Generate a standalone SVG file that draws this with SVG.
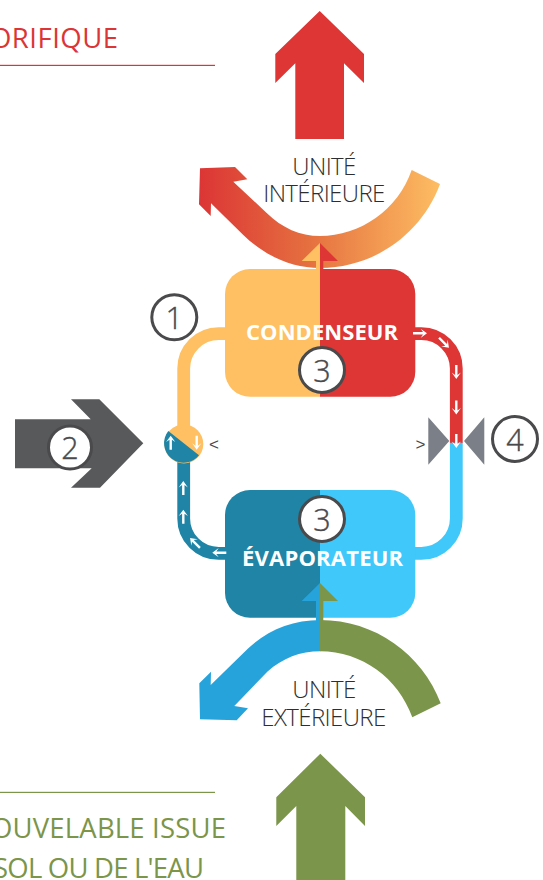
<svg xmlns="http://www.w3.org/2000/svg" width="543" height="880" viewBox="0 0 543 880">
<style>
.num{fill:#fff;stroke:#4a4a4c;stroke-width:3}
.numt{font-family:"Open Sans","Noto Sans",sans-serif;font-weight:300;font-size:30.500px;fill:#4a4a4c;text-anchor:middle;stroke:#4a4a4c;stroke-width:.4}
.lbl{font-family:"Open Sans","Noto Sans",sans-serif;font-weight:300;font-size:24px;fill:#2e2e30;text-anchor:middle;letter-spacing:-.6px}
.box{font-family:"Open Sans","Noto Sans",sans-serif;font-weight:700;font-size:22px;fill:#fff;text-anchor:middle}
.head{font-family:"Open Sans","Noto Sans",sans-serif;font-size:27.500px}
.pipe{fill:none;stroke-width:12.8}
.lt{font-family:"Liberation Sans",sans-serif;font-size:17px;fill:#4a4a4c;text-anchor:middle}
</style>
<defs>
<linearGradient id="g1" gradientUnits="userSpaceOnUse" x1="199" y1="0" x2="440" y2="0"><stop offset="0" stop-color="#dc3535"/><stop offset=".45" stop-color="#e56f3f"/><stop offset="1" stop-color="#fdbd62"/></linearGradient>
<path id="a" d="M-1.200-7H1.200V3L4.600.6 0 7-4.600.6-1.200 3Z" fill="#fff"/>
</defs>
<g id="title-top">
<text class="head" x="-10" y="48" fill="#dc3535" textLength="128">ORIFIQUE</text>
<rect x="0" y="64.800" width="215" height="1.200" fill="#dc3535"/>
</g>
<g id="title-bottom">
<rect x="0" y="791.800" width="215" height="1.200" fill="#7b954a"/>
<text class="head" x="-9" y="837.500" fill="#7b954a" textLength="235">OUVELABLE ISSUE</text>
<text class="head" x="-7" y="878" fill="#7b954a" textLength="211">SOL OU DE L'EAU</text>
</g>
<g id="connectors">
<path class="pipe" stroke="#fec062" d="M226 333.600H218.700A35 35 0 0 0 183.700 368.600V432"/>
<path class="pipe" stroke="#1f84a5" d="M226 553.400H218.700A35 35 0 0 1 183.700 518.400V456"/>
<path class="pipe" stroke="#de3535" d="M414 333.600H421.300A35 35 0 0 1 456.300 368.600V443"/>
<path class="pipe" stroke="#3fc8f9" d="M414 553.400H421.300A35 35 0 0 0 456.300 518.400V442.700"/>
</g>
<g id="heat-out-arrow"><path fill="#de3535" d="M319.700 11 364 54V83L344 63.300V139H295.300V63.300L275.300 83V54Z"/></g>
<g id="cold-in-arrow"><path fill="#7b954a" d="M320.300 753.700 365 797.300V826L345.300 806V880H296.300V806L276.300 826V797.300Z"/></g>
<g id="swoosh-top"><path fill="url(#g1)" d="M440 184 411.700 170C398 210 360 236 320 236 300 236 282 228 266.700 213L233.300 181.700 247.300 179.300 235 167 200 168.300 199 204.300 210.700 216 211 203.300 243.300 235C265 256 292 268 320 268 375 268 422 233 440 184Z"/></g>
<g id="swoosh-bottom">
<path fill="#27a3dc" d="M320.500 620C292 620 268 630 248.300 648.300L210.700 685 211 671.700 199.300 683.300 200 719.300 236.700 720.300 248 708.300 234.300 706 267.300 671.700C283 658 300 651.300 320.500 651.300Z"/>
<path fill="#7b954a" d="M320 620C375 620 422 654 440.700 703.300L412.300 717.300C398 678 362 651.300 320 651.300Z"/>
</g>
<g id="condenseur">
<path fill="#fec062" d="M320 269H250A25 25 0 0 0 225 294V371.700A25 25 0 0 0 250 396.700H320Z"/>
<path fill="#de3535" d="M320 269H390.300A25 25 0 0 1 415.300 294V371.700A25 25 0 0 1 390.300 396.700H320Z"/>
<path fill="#fec062" d="M320 243 301.700 261H316V269H320Z"/>
<path fill="#de3535" d="M320 243 338 261H323.300V269H320Z"/>
<text class="box" x="322" y="340" textLength="152">CONDENSEUR</text>
</g>
<g id="evaporateur">
<path fill="#1f84a5" d="M320 490H250A25 25 0 0 0 225 515V592.700A25 25 0 0 0 250 617.700H320Z"/>
<path fill="#3fc8f9" d="M320 490H390.300A25 25 0 0 1 415.300 515V592.700A25 25 0 0 1 390.300 617.700H320Z"/>
<path fill="#27a3dc" d="M320 583 301.700 601H316V621H320Z"/>
<path fill="#7b954a" d="M320 583 338 601H323.300V621H320Z"/>
<text class="box" x="322.500" y="566" textLength="161">ÉVAPORATEUR</text>
</g>
<g id="unite-interieure">
<text class="lbl" x="324" y="175">UNITÉ</text>
<text class="lbl" x="324" y="202">INTÉRIEURE</text>
</g>
<g id="unite-exterieure">
<text class="lbl" x="324" y="698">UNITÉ</text>
<text class="lbl" x="323.500" y="726">EXTÉRIEURE</text>
</g>
<g id="compresseur">
<circle cx="183.800" cy="444" r="19.500" fill="#fec062"/>
<path fill="#1f84a5" d="M168.300 431 199 455.300A19.500 19.500 0 0 1 168.300 431Z"/>
<use href="#a" transform="translate(170.700 442.700) rotate(180)"/>
<use href="#a" transform="translate(196.700 442.700)"/>
<text class="lt" x="214" y="449.500">&lt;</text>
</g>
<g id="detendeur">
<path fill="#7b8088" d="M428.300 417.300V464.700L449.300 441ZM484.300 417.300V464.700L464 441Z"/>
<text class="lt" x="420.500" y="450">&gt;</text>
</g>
<g id="flow-arrows">
<use href="#a" transform="translate(420 333.300) rotate(-90)"/>
<use href="#a" transform="translate(444 342.700) rotate(-45)"/>
<use href="#a" transform="translate(456.300 372)"/>
<use href="#a" transform="translate(456.300 407.500)"/>
<use href="#a" transform="translate(456.300 441)"/>
<use href="#a" transform="translate(183.300 488) rotate(180)"/>
<use href="#a" transform="translate(183.300 516.700) rotate(180)"/>
<use href="#a" transform="translate(195 543) rotate(135)"/>
<use href="#a" transform="translate(219.300 552.700) rotate(90)"/>
</g>
<g id="heat-arrow"><path fill="#58595b" d="M15 419.300H90.700L71 399.300H99.300L143.300 443.300 100 487.700H71L91.700 468.300H15Z"/></g>
<g id="n1"><circle class="num" cx="174.300" cy="317.300" r="22.500"/><text class="numt" x="174.300" y="329">1</text></g>
<g id="n2"><circle class="num" cx="70" cy="447.500" r="21.500"/><text class="numt" x="70" y="459">2</text></g>
<g id="n3a"><circle class="num" cx="322" cy="370" r="22.500"/><text class="numt" x="322" y="382">3</text></g>
<g id="n3b"><circle class="num" cx="322" cy="519" r="22.500"/><text class="numt" x="322" y="531">3</text></g>
<g id="n4"><circle class="num" cx="515" cy="439" r="22.500"/><text class="numt" x="515" y="451">4</text></g>
</svg>
